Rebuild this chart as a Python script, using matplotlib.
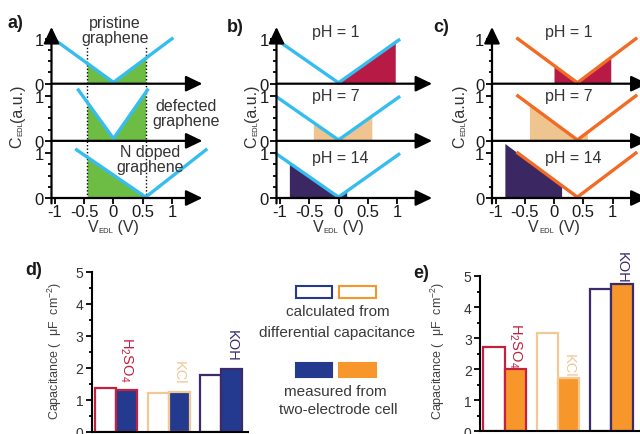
import matplotlib
matplotlib.use("Agg")
import matplotlib.pyplot as plt
import numpy as np
from matplotlib.patches import Rectangle

plt.rcParams["font.family"] = ["Liberation Sans", "DejaVu Sans"]
plt.rcParams["mathtext.fontset"] = "custom"
plt.rcParams["mathtext.rm"] = "Liberation Sans"
plt.rcParams["mathtext.it"] = "Liberation Sans:italic"
plt.rcParams["mathtext.bf"] = "Liberation Sans:bold"

W, H = 640, 435

# ---- data ----
# panel a: V-shaped C_EDL curves, (left end, minimum, right end), top to bottom
A_NAMES = ["pristine\ngraphene", "defected\ngraphene", "N doped\ngraphene"]
A_CURVES_X = [[-1.03, 0.0, 1.0], [-0.6, 0.0, 0.58], [-0.63, 0.55, 1.58]]
A_CURVES_Y = [[1.0, 0.03, 1.0], [1.13, 0.05, 1.13], [1.07, 0.02, 1.07]]
A_WINDOW = [-0.45, 0.55]

# panels b, c: same curve at three pH values, shaded potential window
PH_LABELS = ["pH = 1", "pH = 7", "pH = 14"]
B_CURVE_X = [-1.05, 0.0, 1.03]
B_CURVE_Y = [0.97, 0.02, 0.97]
B_WINDOWS = [[0.0, 0.97], [-0.43, 0.57], [-0.84, 0.14]]
C_CURVE_X = [-0.62, 0.4, 1.4]
C_CURVE_Y = [1.0, 0.02, 1.0]
C_WINDOWS = [[0.0, 0.97], [-0.42, 0.57], [-0.84, 0.13]]

XTICKS = [-1, -0.5, 0, 0.5, 1]
XTICK_LABELS = ["-1", "-0.5", "0", "0.5", "1"]

# panels d, e: capacitance (uF cm-2)
ELECTROLYTES = ["H$_2$SO$_4$", "KCl", "KOH"]
D_CALC = [1.37, 1.20, 1.78]
D_MEAS = [1.31, 1.23, 1.95]
E_CALC = [2.70, 3.15, 4.57]
E_MEAS = [2.00, 1.71, 4.74]

# ---- styles ----
CYAN = "#35bdef"
ORANGE_LINE = "#f26b24"
GREEN = "#6dbd45"
PH_FILLS = ["#b71a45", "#eec48f", "#3b2762"]
BLUE_BAR = "#243a8f"
ORANGE_BAR = "#f7962b"
EL_COLORS = ["#c4203f", "#f2c894", "#3c2a6c"]
TXT = "#333333"

OFFSETS = [2.54, 1.27, 0.0]  # baselines of the stacked curves, top to bottom
AXIS_X = -1.06
XS, YS = 58.5, 45.0  # px per unit in the stacked panels
BASE_PX = 199
ARROW = dict(arrowstyle="-|>,head_length=1.0,head_width=0.48", mutation_scale=10,
             lw=1.6, color="black", shrinkA=0, shrinkB=0)

fig = plt.figure(figsize=(W / 100, H / 100), dpi=100)


def px_axes(left, top, right, bottom):
    return fig.add_axes([left / W, 1 - bottom / H, (right - left) / W, (bottom - top) / H])


def v_height(xs, ys, x):
    x = np.asarray(x, dtype=float)
    left = ys[1] + (ys[0] - ys[1]) * (xs[1] - x) / (xs[1] - xs[0])
    right = ys[1] + (ys[2] - ys[1]) * (x - xs[1]) / (xs[2] - xs[1])
    return np.where(x <= xs[1], left, right)


def shade(ax, xs, ys, window, off, color):
    pts = [window[0]] + ([xs[1]] if window[0] < xs[1] < window[1] else []) + [window[1]]
    ax.fill_between(pts, off, off + v_height(xs, ys, pts), color=color, lw=0, zorder=1)


def stacked_axes(zero_px, tip):
    ax = px_axes(zero_px - 1.15 * XS, BASE_PX - 3.85 * YS, zero_px + 1.65 * XS, BASE_PX + 0.15 * YS)
    ax.set_xlim(-1.15, 1.65)
    ax.set_ylim(-0.15, 3.85)
    ax.patch.set_visible(False)
    for s in ax.spines.values():
        s.set_visible(False)
    ax.spines["bottom"].set_position(("data", 0))
    ax.spines["left"].set_position(("data", AXIS_X))
    ax.set_xticks(XTICKS, XTICK_LABELS)
    yt, yl = [], []
    for off in OFFSETS:
        yt += [off, off + 1]
        yl += ["0", "1"]
    ax.set_yticks(yt, yl)
    ax.set_yticks([off + m for off in OFFSETS for m in (0.25, 0.5, 0.75)], minor=True)
    ax.tick_params(which="both", direction="out", width=1.3, labelsize=12,
                   labelcolor="#1a1a1a", pad=1.5)
    ax.tick_params(axis="x", pad=0.5)
    ax.tick_params(which="major", length=4)
    ax.tick_params(which="minor", length=2.5)
    ax.annotate("", xy=(AXIS_X, 3.8), xytext=(AXIS_X, -0.12), arrowprops=ARROW, zorder=5)
    for off in OFFSETS:
        ax.annotate("", xy=(tip, off), xytext=(AXIS_X, off), arrowprops=ARROW, zorder=5)
    return ax


# ---- a) ----
ax_a = stacked_axes(113.5, 1.52)
for xs, ys, off in zip(A_CURVES_X, A_CURVES_Y, OFFSETS):
    shade(ax_a, xs, ys, A_WINDOW, off, GREEN)
    ax_a.plot(xs, np.array(ys) + off, color=CYAN, lw=2.4, zorder=3, clip_on=False)
for xv in A_WINDOW:
    ax_a.plot([xv, xv], [0, 3.38], color="black", lw=1, ls=(0, (1, 1.5)), zorder=2)
for name, (tx, ty) in zip(A_NAMES, [(0.03, 3.74), (1.24, 1.88), (0.62, 0.87)]):
    ax_a.text(tx, ty, name, ha="center", va="center", fontsize=11.5, color=TXT,
              linespacing=1.0, zorder=6)

# ---- b) and c) ----
for zero_px, tip, cx, cy, windows, color, text_x in [
        (338.5, 1.6, B_CURVE_X, B_CURVE_Y, B_WINDOWS, CYAN, -0.45),
        (554, 1.6, C_CURVE_X, C_CURVE_Y, C_WINDOWS, ORANGE_LINE, -0.15)]:
    ax = stacked_axes(zero_px, tip)
    for label, win, fill, off, dy in zip(PH_LABELS, windows, PH_FILLS, OFFSETS, [1.15, 1.0, 0.91]):
        shade(ax, cx, cy, win, off, fill)
        ax.plot(cx, np.array(cy) + off, color=color, lw=2.4, zorder=3, clip_on=False)
        ax.text(text_x, off + dy, label, ha="left", va="center", fontsize=11.5, color=TXT)


# ---- d) and e) ----
def bar_axes(left, right, top, bottom, xlim, calc, meas, fill, pad):
    ax = px_axes(left, top, right, bottom)
    idx = np.arange(len(ELECTROLYTES))
    ax.bar(idx - 0.2, calc, 0.4, facecolor="white", edgecolor=EL_COLORS, lw=1.6)
    ax.bar(idx + 0.2, meas, 0.4, facecolor=fill, edgecolor=EL_COLORS, lw=1.6)
    for i, (name, col) in enumerate(zip(ELECTROLYTES, EL_COLORS)):
        ax.annotate(name, (i + 0.2, meas[i]), xytext=(0, pad), textcoords="offset points",
                    rotation=-90, rotation_mode="anchor", ha="right", va="center",
                    fontsize=10.5, color=col)
    ax.set_xlim(*xlim)
    ax.set_ylim(0, 5)
    ax.patch.set_visible(False)
    ax.spines[["top", "right"]].set_visible(False)
    ax.spines[["left", "bottom"]].set_linewidth(1.5)
    ax.set_xticks([])
    ax.set_yticks(range(6))
    ax.set_yticks(np.arange(0.5, 5, 1.0), minor=True)
    ax.tick_params(which="both", direction="out", width=1.3, labelsize=10,
                   labelcolor=TXT, pad=2)
    ax.tick_params(which="major", length=4)
    ax.tick_params(which="minor", length=2.5)
    return ax


bar_axes(91.5, 247.7, 273, 432.5, (-0.465, 2.5), D_CALC, D_MEAS, BLUE_BAR, 6)
bar_axes(480, 640, 277, 432.3, (-0.46, 2.54), E_CALC, E_MEAS, ORANGE_BAR, 1)

# ---- labels, legend ----
ov = fig.add_axes([0, 0, 1, 1])
ov.set_xlim(0, W)
ov.set_ylim(H, 0)
ov.axis("off")
ov.patch.set_visible(False)

for lab, x, y in [("a)", 8, 24), ("b)", 227, 27), ("c)", 433, 27), ("d)", 25, 271), ("e)", 413, 274)]:
    ov.text(x, y, lab, ha="left", va="center", fontsize=13, fontweight="bold", color="#1a1a1a")


def edl_label(x, y, main, rest, vertical):
    """main letter + small 'EDL' subscript + rest, centred on (x, y) in pixels."""
    kw = dict(fontsize=11.5, color=TXT)
    sub = dict(fontsize=5.5, color=TXT)
    if vertical:
        t1 = ov.text(x, y, main, rotation=90, ha="center", va="bottom", **kw)
        t2 = ov.annotate("EDL", xy=(1, 1), xycoords=t1, rotation=90, ha="right", va="bottom", **sub)
        t3 = ov.annotate(rest, xy=(0.5, 1), xycoords=(t1, t2), rotation=90,
                         ha="center", va="bottom", **kw)
    else:
        t1 = ov.text(x, y, main, ha="left", va="baseline", **kw)
        t2 = ov.annotate("EDL", xy=(1, 0), xycoords=t1, ha="left", va="bottom", **sub)
        t3 = ov.annotate(rest, xy=(1, 0), xycoords=(t2, t1), ha="left", va="bottom", **kw)
    return t1, t3, vertical, x, y


edl_parts = [edl_label(x, 116, "C", "(a.u.)", True) for x in (17, 252, 460)]
edl_parts += [edl_label(x, 232, "V", " (V)", False) for x in (113.5, 338.5, 554)]

for x in (55, 438):
    ov.text(x, 351, "Capacitance (  μF  cm$^{-2}$)", rotation=90, ha="center", va="center",
            fontsize=9, color="#404040")

for (x, y, w, h), edge, face in [((296, 287, 36, 12), BLUE_BAR, "white"),
                                 ((339, 287, 37, 12), ORANGE_BAR, "white"),
                                 ((296, 364, 36, 14), BLUE_BAR, BLUE_BAR),
                                 ((339, 364, 37, 14), ORANGE_BAR, ORANGE_BAR)]:
    ov.add_patch(Rectangle((x, y), w, h, facecolor=face, edgecolor=edge, lw=1.5))
for txt, x, y in [("calculated from", 338, 312), ("differential capacitance", 337, 333),
                  ("measured from", 335, 392), ("two-electrode cell", 338, 410)]:
    ov.text(x, y, txt, ha="center", va="center", fontsize=11, color="#3a3a3a")

# centre the composed C_EDL / V_EDL labels on their target points
fig.canvas.draw()
renderer = fig.canvas.get_renderer()
for t1, t3, vertical, x, y in edl_parts:
    e1 = t1.get_window_extent(renderer)
    e3 = t3.get_window_extent(renderer)
    if vertical:
        span = e3.y1 - e1.y0
        t1.set_position((x, y + span / 2))
    else:
        span = e3.x1 - e1.x0
        t1.set_position((x - span / 2, y))

fig.savefig("out.png", dpi=100)
